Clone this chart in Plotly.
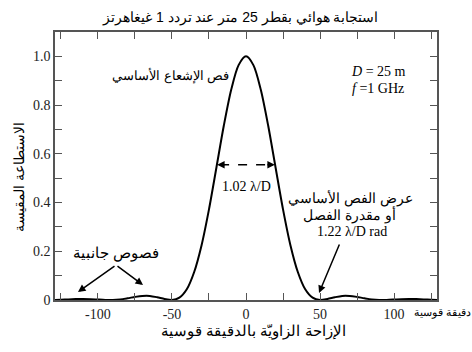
import plotly.graph_objects as go

# Angular offset (arc-minutes) and normalised power
offset_arcmin = [-130, -125, -120, -115, -110, -105, -100, -95, -90, -85, -80, -75, -70, -65, -60, -55,
                 -50, -45, -40, -35, -30, -25, -20, -15, -10, -5, 0,
                 5, 10, 15, 20, 25, 30, 35, 40, 45, 50,
                 55, 60, 65, 70, 75, 80, 85, 90, 95, 100, 105, 110, 115, 120, 125, 130]
power = [0.0002, 0.0011, 0.0024, 0.0036, 0.0041, 0.0034, 0.0018, 0.0004, 0.0002, 0.0024, 0.0071, 0.0127, 0.0168, 0.0169, 0.0115, 0.0044,
         0.0, 0.0095, 0.044, 0.115, 0.225, 0.372, 0.543, 0.715, 0.863, 0.964, 1.0,
         0.964, 0.863, 0.715, 0.543, 0.372, 0.225, 0.115, 0.044, 0.0095, 0.0,
         0.0044, 0.0115, 0.0169, 0.0168, 0.0127, 0.0071, 0.0024, 0.0002, 0.0004, 0.0018, 0.0034, 0.0041, 0.0036, 0.0024, 0.0011, 0.0002]

x_tickvals = [-100, -50, 0, 50, 100]
x_ticktext = ["-100", "-50", "0", "50", "100"]
y_tickvals = [0, 0.2, 0.4, 0.6, 0.8, 1.0]
y_ticktext = ["0", "0.2", "0.4", "0.6", "0.8", "1.0"]

title_text = "استجابة هوائي بقطر 25 متر عند تردد 1 غيغاهرتز"
x_title = "الإزاحة الزاويّة بالدقيقة قوسية"
x_unit = "دقيقة قوسية"
y_title = "الاستطاعة المقيسة"
main_lobe = "فص الإشعاع الأساسي"
side_lobes = "فصوص جانبية"
width_line1 = "عرض الفص الأساسي"
width_line2 = "أو مقدرة الفصل"
width_line3 = "1.22 λ/D rad"
hpbw_text = "1.02 λ/D"
hpbw_half = 19.5
hpbw_level = 0.555
x_range = [-129, 129]
y_range = [0, 1.1]

SANS = "Liberation Sans, Arial, sans-serif"
SERIF = "Liberation Serif, Times New Roman, serif"
AX = "#555555"

W, H = 472, 352
ML, MR, MT, MB = 55, 35, 32, 52
PW, PH = W - ML - MR, H - MT - MB

fig = go.Figure()
fig.add_trace(go.Scatter(x=offset_arcmin, y=power, mode="lines",
                         line=dict(color="black", width=2, shape="spline", smoothing=0.8),
                         hoverinfo="skip", showlegend=False))
# invisible trace so the mirror axes (top/right) are drawn
fig.add_trace(go.Scatter(x=[x_range[0]], y=[y_range[0]], xaxis="x2", yaxis="y2", mode="markers",
                         marker=dict(opacity=0), hoverinfo="skip", showlegend=False))

tick_common = dict(ticks="inside", tickcolor=AX, tickwidth=1, ticklen=7,
                   showgrid=False, zeroline=False, showline=True, linecolor=AX, linewidth=1.5)

fig.update_layout(
    xaxis=dict(range=x_range, tickvals=x_tickvals, ticktext=x_ticktext,
               minor=dict(ticks="inside", dtick=25, tick0=0, ticklen=7, tickcolor=AX),
               tickfont=dict(family=SERIF, size=14, color="#222"), **tick_common),
    yaxis=dict(range=y_range, tickvals=y_tickvals, ticktext=y_ticktext,
               minor=dict(ticks="inside", dtick=0.1, tick0=0, ticklen=7, tickcolor=AX),
               tickfont=dict(family=SERIF, size=14, color="#222"), **tick_common),
    xaxis2=dict(range=x_range, overlaying="x", side="top", anchor="y2", tickvals=x_tickvals,
                showticklabels=False,
                minor=dict(ticks="inside", dtick=25, tick0=0, ticklen=7, tickcolor=AX),
                **tick_common),
    yaxis2=dict(range=y_range, overlaying="y", side="right", anchor="x2", tickvals=y_tickvals,
                showticklabels=False,
                minor=dict(ticks="inside", dtick=0.1, tick0=0, ticklen=7, tickcolor=AX),
                **tick_common),
)

# dashed HPBW line
fig.add_shape(type="line", x0=-hpbw_half + 2, x1=hpbw_half - 2, y0=hpbw_level, y1=hpbw_level,
              xref="x", yref="y", line=dict(color="black", width=1.5, dash="dash"))

anns = []
for sgn in (-1, 1):
    anns.append(dict(x=sgn * hpbw_half, y=hpbw_level, ax=sgn * (hpbw_half - 6), ay=hpbw_level,
                     xref="x", yref="y", axref="x", ayref="y", text="", showarrow=True,
                     arrowhead=2, arrowsize=1, arrowwidth=1.5, arrowcolor="black"))
anns.append(dict(x=0, y=0.465, xref="x", yref="y", text=hpbw_text, showarrow=False,
                 font=dict(family=SERIF, size=14, color="black")))


def px_ann(text, x, y, size=14, family=SANS, xanchor="center", **kw):
    return dict(text=text, x=(x - ML) / PW, y=(MT + PH - y) / PH, xref="paper", yref="paper",
                showarrow=False, xanchor=xanchor, yanchor="middle",
                font=dict(family=family, size=size, color="black"), **kw)


anns.append(px_ann(title_text, 240, 18, size=14))
anns.append(px_ann(main_lobe, 170, 75, size=13))
anns.append(px_ann("<i>D</i> = 25 m", 378, 71, size=14, family=SERIF))
anns.append(px_ann("<i>f</i> =1 GHz", 378, 88, size=14, family=SERIF))
anns.append(px_ann(width_line1, 350, 198, size=14))
anns.append(px_ann(width_line2, 349, 215, size=14))
anns.append(px_ann(width_line3, 352, 232, size=14, family=SERIF))
anns.append(px_ann(side_lobes, 116, 253, size=14.5))
anns.append(px_ann(x_unit, 442, 312, size=11))
anns.append(px_ann(x_title, 253, 331, size=15))
anns.append(px_ann(y_title, 19, 177, size=14, textangle=-90))


def arrow(x_head, y_head, x_tail, y_tail):
    return dict(x=(x_head - ML) / PW, y=(MT + PH - y_head) / PH, ax=x_tail - x_head, ay=y_tail - y_head,
                xref="paper", yref="paper", axref="pixel", ayref="pixel", text="",
                showarrow=True, arrowhead=2, arrowsize=1, arrowwidth=1.5, arrowcolor="black")


anns.append(arrow(319, 293, 340, 243))
anns.append(arrow(78, 292, 116, 265))
anns.append(arrow(143, 285, 116, 265))

fig.update_layout(
    width=W, height=H,
    margin=dict(l=ML, r=MR, t=MT, b=MB),
    paper_bgcolor="white", plot_bgcolor="white",
    showlegend=False,
    annotations=anns,
)
fig.write_html("out.html")
